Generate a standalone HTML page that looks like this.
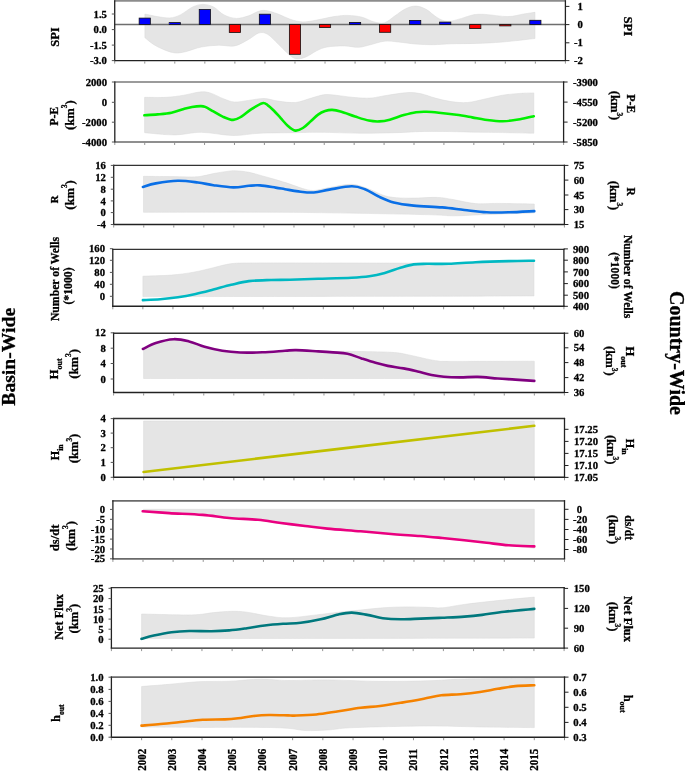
<!DOCTYPE html>
<html><head><meta charset="utf-8"><title>Basin-Wide vs Country-Wide</title>
<style>
html,body{margin:0;padding:0;background:#fff;}
body{width:685px;height:775px;overflow:hidden;}
svg{display:block;filter:blur(0.35px);}
svg text{font-family:"Liberation Serif", serif;font-weight:bold;fill:#000;stroke:#000;stroke-width:0.3px;}
</style></head><body>
<svg width="685" height="775" viewBox="0 0 685 775">
<rect width="685" height="775" fill="#fff"/>
<path d="M144.9,14 C147,14.43 153.35,15.95 157.5,16.6 C161.65,17.25 166,18.18 169.8,17.9 C173.6,17.62 176.5,16.72 180.3,14.9 C184.1,13.08 188.82,8.75 192.6,7 C196.38,5.25 199.5,4.4 203,4.4 C206.5,4.4 210.1,5.25 213.6,7 C217.1,8.75 220.2,13 224,14.9 C227.8,16.8 232.3,18.25 236.4,18.4 C240.5,18.55 245,16.95 248.6,15.8 C252.2,14.65 255.13,12.38 258,11.5 C260.87,10.62 262.47,10.08 265.8,10.5 C269.13,10.92 273.92,12.53 278,14 C282.08,15.47 286.2,17.98 290.3,19.3 C294.4,20.62 298.22,21.77 302.6,21.9 C306.98,22.03 311.37,20.98 316.6,20.1 C321.83,19.22 328.77,17.38 334,16.6 C339.23,15.82 343.33,15.3 348,15.4 C352.67,15.5 357.67,16.12 362,17.2 C366.33,18.28 370.25,20.97 374,21.9 C377.75,22.83 381,23.82 384.5,22.8 C388,21.78 391.5,18.13 395,15.8 C398.5,13.47 402,10.42 405.5,8.8 C409,7.18 412.48,5.97 416,6.1 C419.52,6.23 423.1,7.7 426.6,9.6 C430.1,11.5 433.5,15.53 437,17.5 C440.5,19.47 443.5,21.25 447.6,21.4 C451.7,21.55 457.4,19.48 461.6,18.4 C465.8,17.32 468.9,15.57 472.8,14.9 C476.7,14.23 479.17,14.12 485,14.4 C490.83,14.68 501.37,16.67 507.8,16.6 C514.23,16.53 519.07,14.72 523.6,14 C528.13,13.28 533.1,12.58 535,12.3 L535,38.5 C529.6,39.08 512.38,41.18 502.6,42 C492.82,42.82 484.9,43.1 476.3,43.4 C467.7,43.7 458.12,43.58 451,43.8 C443.88,44.02 439.43,44.65 433.6,44.7 C427.77,44.75 421.85,44.55 416,44.1 C410.15,43.65 403.75,42.48 398.5,42 C393.25,41.52 389.17,40.75 384.5,41.2 C379.83,41.65 374.82,43.68 370.5,44.7 C366.18,45.72 362.92,47.1 358.6,47.3 C354.28,47.5 349.87,45.95 344.6,45.9 C339.33,45.85 331.67,46.18 327,47 C322.33,47.82 320.1,49.15 316.6,50.8 C313.1,52.45 309.52,55.58 306,56.9 C302.48,58.22 298.7,59.42 295.5,58.7 C292.3,57.98 289.72,55.08 286.8,52.6 C283.88,50.12 281.22,46.87 278,43.8 C274.78,40.73 270.7,36 267.5,34.2 C264.3,32.4 261.95,32.13 258.8,33 C255.65,33.87 252.63,37.25 248.6,39.4 C244.57,41.55 239.57,44.93 234.6,45.9 C229.63,46.87 224.35,45.02 218.8,45.2 C213.25,45.38 206.85,45.92 201.3,47 C195.75,48.08 189.88,50.72 185.5,51.7 C181.12,52.68 178.5,53.2 175,52.9 C171.5,52.6 168,51.27 164.5,49.9 C161,48.53 157.27,46.73 154,44.7 C150.73,42.67 146.42,38.87 144.9,37.7 Z" fill="#e5e5e5" stroke="#d8d8d8" stroke-width="0.5"/>
<line x1="114.7" y1="24.5" x2="565.4" y2="24.5" stroke="#6e6e6e" stroke-width="1.3"/>
<rect x="139.15" y="18.1" width="11.2" height="6.4" fill="#0000ff" stroke="#111" stroke-width="0.8"/>
<rect x="169.19" y="22.6" width="11.2" height="1.9" fill="#0000ff" stroke="#111" stroke-width="0.8"/>
<rect x="199.24" y="9.5" width="11.2" height="15" fill="#0000ff" stroke="#111" stroke-width="0.8"/>
<rect x="229.29" y="24.5" width="11.2" height="8" fill="#ff0000" stroke="#111" stroke-width="0.8"/>
<rect x="259.33" y="14.2" width="11.2" height="10.3" fill="#0000ff" stroke="#111" stroke-width="0.8"/>
<rect x="289.38" y="24.5" width="11.2" height="29.8" fill="#ff0000" stroke="#111" stroke-width="0.8"/>
<rect x="319.43" y="24.5" width="11.2" height="3" fill="#ff0000" stroke="#111" stroke-width="0.8"/>
<rect x="349.47" y="22.4" width="11.2" height="2.1" fill="#0000ff" stroke="#111" stroke-width="0.8"/>
<rect x="379.52" y="24.5" width="11.2" height="7.8" fill="#ff0000" stroke="#111" stroke-width="0.8"/>
<rect x="409.57" y="20.4" width="11.2" height="4.1" fill="#0000ff" stroke="#111" stroke-width="0.8"/>
<rect x="439.61" y="22.1" width="11.2" height="2.4" fill="#0000ff" stroke="#111" stroke-width="0.8"/>
<rect x="469.66" y="24.5" width="11.2" height="4.1" fill="#ff0000" stroke="#111" stroke-width="0.8"/>
<rect x="499.71" y="24.5" width="11.2" height="1.4" fill="#ff0000" stroke="#111" stroke-width="0.8"/>
<rect x="529.75" y="20.3" width="11.2" height="4.2" fill="#0000ff" stroke="#111" stroke-width="0.8"/>
<line x1="114.1" y1="0.8" x2="566" y2="0.8" stroke="#8c8c8c" stroke-width="1.7"/>
<line x1="114.1" y1="60.6" x2="566" y2="60.6" stroke="#222" stroke-width="1.4"/>
<line x1="114.7" y1="0.2" x2="114.7" y2="61.2" stroke="#222" stroke-width="1.3"/>
<line x1="565.4" y1="0.2" x2="565.4" y2="61.2" stroke="#222" stroke-width="1.3"/>
<line x1="114.7" y1="61.3" x2="114.7" y2="63.6" stroke="#888" stroke-width="0.9"/>
<line x1="144.75" y1="61.3" x2="144.75" y2="63.6" stroke="#888" stroke-width="0.9"/>
<line x1="174.79" y1="61.3" x2="174.79" y2="63.6" stroke="#888" stroke-width="0.9"/>
<line x1="204.84" y1="61.3" x2="204.84" y2="63.6" stroke="#888" stroke-width="0.9"/>
<line x1="234.89" y1="61.3" x2="234.89" y2="63.6" stroke="#888" stroke-width="0.9"/>
<line x1="264.93" y1="61.3" x2="264.93" y2="63.6" stroke="#888" stroke-width="0.9"/>
<line x1="294.98" y1="61.3" x2="294.98" y2="63.6" stroke="#888" stroke-width="0.9"/>
<line x1="325.03" y1="61.3" x2="325.03" y2="63.6" stroke="#888" stroke-width="0.9"/>
<line x1="355.07" y1="61.3" x2="355.07" y2="63.6" stroke="#888" stroke-width="0.9"/>
<line x1="385.12" y1="61.3" x2="385.12" y2="63.6" stroke="#888" stroke-width="0.9"/>
<line x1="415.17" y1="61.3" x2="415.17" y2="63.6" stroke="#888" stroke-width="0.9"/>
<line x1="445.21" y1="61.3" x2="445.21" y2="63.6" stroke="#888" stroke-width="0.9"/>
<line x1="475.26" y1="61.3" x2="475.26" y2="63.6" stroke="#888" stroke-width="0.9"/>
<line x1="505.31" y1="61.3" x2="505.31" y2="63.6" stroke="#888" stroke-width="0.9"/>
<line x1="535.35" y1="61.3" x2="535.35" y2="63.6" stroke="#888" stroke-width="0.9"/>
<line x1="565.4" y1="61.3" x2="565.4" y2="63.6" stroke="#888" stroke-width="0.9"/>
<line x1="111.8" y1="14" x2="114.7" y2="14" stroke="#555" stroke-width="1"/>
<text x="106.9" y="17.64" font-size="10.7" text-anchor="end">1.5</text>
<line x1="111.8" y1="29.6" x2="114.7" y2="29.6" stroke="#555" stroke-width="1"/>
<text x="106.9" y="33.24" font-size="10.7" text-anchor="end">0.0</text>
<line x1="111.8" y1="45.1" x2="114.7" y2="45.1" stroke="#555" stroke-width="1"/>
<text x="106.9" y="48.74" font-size="10.7" text-anchor="end">-1.5</text>
<line x1="111.8" y1="60.6" x2="114.7" y2="60.6" stroke="#555" stroke-width="1"/>
<text x="106.9" y="64.24" font-size="10.7" text-anchor="end">-3.0</text>
<line x1="565.4" y1="6.4" x2="569.4" y2="6.4" stroke="#222" stroke-width="1"/>
<text x="582.8" y="10.04" font-size="10.7" text-anchor="end">1</text>
<line x1="565.4" y1="24.6" x2="569.4" y2="24.6" stroke="#222" stroke-width="1"/>
<text x="582.8" y="28.24" font-size="10.7" text-anchor="end">0</text>
<line x1="565.4" y1="42.8" x2="569.4" y2="42.8" stroke="#222" stroke-width="1"/>
<text x="582.8" y="46.44" font-size="10.7" text-anchor="end">-1</text>
<line x1="565.4" y1="60.6" x2="569.4" y2="60.6" stroke="#222" stroke-width="1"/>
<text x="582.8" y="64.24" font-size="10.7" text-anchor="end">-2</text>
<path d="M144.6,97.3 C148.22,97.3 159.77,97.65 166.3,97.3 C172.83,96.95 178.25,96.08 183.8,95.2 C189.35,94.32 195.23,92.38 199.6,92 C203.97,91.62 205.93,91.73 210,92.9 C214.07,94.07 219.9,97.48 224,99 C228.1,100.52 230.5,101.77 234.6,102 C238.7,102.23 243.7,100.98 248.6,100.4 C253.5,99.82 259.1,98.38 264,98.5 C268.9,98.62 272.75,100.43 278,101.1 C283.25,101.77 289.95,103 295.5,102.5 C301.05,102 306.33,99.42 311.3,98.1 C316.27,96.78 320.35,94.97 325.3,94.6 C330.25,94.23 336.03,95.4 341,95.9 C345.97,96.4 350.27,97.23 355.1,97.6 C359.93,97.97 365.68,98.3 370,98.1 C374.32,97.9 376.83,97.07 381,96.4 C385.17,95.73 390.33,94.75 395,94.1 C399.67,93.45 404.62,92.55 409,92.5 C413.38,92.45 416.92,92.87 421.3,93.8 C425.68,94.73 430.35,96.8 435.3,98.1 C440.25,99.4 445.63,100.87 451,101.6 C456.37,102.33 461.83,102.93 467.5,102.5 C473.17,102.07 479.15,100.22 485,99 C490.85,97.78 496.77,96.13 502.6,95.2 C508.43,94.27 514.8,93.78 520,93.4 C525.2,93.02 531.5,92.98 533.8,92.9 L533.8,133.2 C525.67,133.05 502.3,132.6 485,132.3 C467.7,132 445,131.33 430,131.4 C415,131.47 406.67,132.4 395,132.7 C383.33,133 372.5,133.27 360,133.2 C347.5,133.13 331.03,132.38 320,132.3 C308.97,132.22 303.8,132.55 293.8,132.7 C283.8,132.85 270.15,132.73 260,133.2 C249.85,133.67 242.68,135.65 232.9,135.5 C223.12,135.35 210.95,132.4 201.3,132.3 C191.65,132.2 184.45,134.83 175,134.9 C165.55,134.97 149.67,133.07 144.6,132.7 Z" fill="#e5e5e5" stroke="#d8d8d8" stroke-width="0.5"/>
<path d="M144.4,115.3 C146.58,115.15 152.98,114.83 157.5,114.4 C162.02,113.97 167.12,113.6 171.5,112.7 C175.88,111.8 180.38,109.95 183.8,109 C187.22,108.05 189.22,107.48 192,107 C194.78,106.52 198.3,106.12 200.5,106.1 C202.7,106.08 203.05,106.02 205.2,106.9 C207.35,107.78 210.48,109.78 213.4,111.4 C216.32,113.02 219.4,115.18 222.7,116.6 C226,118.02 230.08,119.9 233.2,119.9 C236.32,119.9 238.48,118.32 241.4,116.6 C244.32,114.88 247.2,111.83 250.7,109.6 C254.2,107.37 259.55,103.92 262.4,103.2 C265.25,102.48 265.92,104.08 267.8,105.3 C269.68,106.52 271.55,108.37 273.7,110.5 C275.85,112.63 278.37,115.57 280.7,118.1 C283.03,120.63 285.27,123.62 287.7,125.7 C290.13,127.78 292.77,130.22 295.3,130.6 C297.83,130.98 300.28,129.6 302.9,128 C305.52,126.4 308.47,123.23 311,121 C313.53,118.77 315.75,116.25 318.1,114.6 C320.45,112.95 322.77,111.88 325.1,111.1 C327.43,110.32 329.38,109.8 332.1,109.9 C334.82,110 337.57,110.6 341.4,111.7 C345.23,112.8 350.53,115.02 355.1,116.5 C359.67,117.98 364.77,119.78 368.8,120.6 C372.83,121.42 375.8,121.55 379.3,121.4 C382.8,121.25 385.72,120.75 389.8,119.7 C393.88,118.65 399.43,116.35 403.8,115.1 C408.17,113.85 412.2,112.75 416,112.2 C419.8,111.65 422.8,111.72 426.6,111.8 C430.4,111.88 433.83,112.2 438.8,112.7 C443.77,113.2 450.85,114.02 456.4,114.8 C461.95,115.58 467.33,116.58 472.1,117.4 C476.87,118.22 479.92,119.05 485,119.7 C490.08,120.35 496.77,121.38 502.6,121.3 C508.43,121.22 514.8,120.05 520,119.2 C525.2,118.35 531.5,116.7 533.8,116.2" fill="none" stroke="#00f000" stroke-width="2.6" stroke-linecap="round" stroke-linejoin="round"/>
<line x1="114.2" y1="82" x2="564.2" y2="82" stroke="#7a7a7a" stroke-width="1.7"/>
<line x1="114.2" y1="142" x2="564.2" y2="142" stroke="#6a6a6a" stroke-width="1.7"/>
<line x1="114.8" y1="81.4" x2="114.8" y2="142.6" stroke="#222" stroke-width="1.3"/>
<line x1="563.6" y1="81.4" x2="563.6" y2="142.6" stroke="#222" stroke-width="1.3"/>
<line x1="114.8" y1="142.7" x2="114.8" y2="145" stroke="#888" stroke-width="0.9"/>
<line x1="144.72" y1="142.7" x2="144.72" y2="145" stroke="#888" stroke-width="0.9"/>
<line x1="174.64" y1="142.7" x2="174.64" y2="145" stroke="#888" stroke-width="0.9"/>
<line x1="204.56" y1="142.7" x2="204.56" y2="145" stroke="#888" stroke-width="0.9"/>
<line x1="234.48" y1="142.7" x2="234.48" y2="145" stroke="#888" stroke-width="0.9"/>
<line x1="264.4" y1="142.7" x2="264.4" y2="145" stroke="#888" stroke-width="0.9"/>
<line x1="294.32" y1="142.7" x2="294.32" y2="145" stroke="#888" stroke-width="0.9"/>
<line x1="324.24" y1="142.7" x2="324.24" y2="145" stroke="#888" stroke-width="0.9"/>
<line x1="354.16" y1="142.7" x2="354.16" y2="145" stroke="#888" stroke-width="0.9"/>
<line x1="384.08" y1="142.7" x2="384.08" y2="145" stroke="#888" stroke-width="0.9"/>
<line x1="414" y1="142.7" x2="414" y2="145" stroke="#888" stroke-width="0.9"/>
<line x1="443.92" y1="142.7" x2="443.92" y2="145" stroke="#888" stroke-width="0.9"/>
<line x1="473.84" y1="142.7" x2="473.84" y2="145" stroke="#888" stroke-width="0.9"/>
<line x1="503.76" y1="142.7" x2="503.76" y2="145" stroke="#888" stroke-width="0.9"/>
<line x1="533.68" y1="142.7" x2="533.68" y2="145" stroke="#888" stroke-width="0.9"/>
<line x1="563.6" y1="142.7" x2="563.6" y2="145" stroke="#888" stroke-width="0.9"/>
<line x1="111.9" y1="82" x2="114.8" y2="82" stroke="#555" stroke-width="1"/>
<text x="107" y="85.64" font-size="10.7" text-anchor="end">2000</text>
<line x1="111.9" y1="102.3" x2="114.8" y2="102.3" stroke="#555" stroke-width="1"/>
<text x="107" y="105.94" font-size="10.7" text-anchor="end">0</text>
<line x1="111.9" y1="122.2" x2="114.8" y2="122.2" stroke="#555" stroke-width="1"/>
<text x="107" y="125.84" font-size="10.7" text-anchor="end">-2000</text>
<line x1="111.9" y1="142" x2="114.8" y2="142" stroke="#555" stroke-width="1"/>
<text x="107" y="145.64" font-size="10.7" text-anchor="end">-4000</text>
<line x1="563.6" y1="82" x2="567.6" y2="82" stroke="#222" stroke-width="1"/>
<text x="573" y="85.64" font-size="10.7" text-anchor="start">-3900</text>
<line x1="563.6" y1="102.1" x2="567.6" y2="102.1" stroke="#222" stroke-width="1"/>
<text x="573" y="105.74" font-size="10.7" text-anchor="start">-4550</text>
<line x1="563.6" y1="122.1" x2="567.6" y2="122.1" stroke="#222" stroke-width="1"/>
<text x="573" y="125.74" font-size="10.7" text-anchor="start">-5200</text>
<line x1="563.6" y1="142" x2="567.6" y2="142" stroke="#222" stroke-width="1"/>
<text x="573" y="145.64" font-size="10.7" text-anchor="start">-5850</text>
<path d="M143.5,176.3 C147.92,176.35 162.58,176.5 170,176.6 C177.42,176.7 183,176.92 188,176.9 C193,176.88 195.77,177.05 200,176.5 C204.23,175.95 208.93,174.45 213.4,173.6 C217.87,172.75 223.1,171.87 226.8,171.4 C230.5,170.93 231.92,170.65 235.6,170.8 C239.28,170.95 244.45,171.45 248.9,172.3 C253.35,173.15 257.85,174.68 262.3,175.9 C266.75,177.12 270.98,178.23 275.6,179.6 C280.22,180.97 285.48,182.62 290,184.1 C294.52,185.58 298.73,187.43 302.7,188.5 C306.67,189.57 309.35,190.65 313.8,190.5 C318.25,190.35 323.1,188.63 329.4,187.6 C335.7,186.57 344.95,184.03 351.6,184.3 C358.25,184.57 363.77,187.28 369.3,189.2 C374.83,191.12 379.62,194.33 384.8,195.8 C389.98,197.27 394.85,197.63 400.4,198 C405.95,198.37 411.88,198.1 418.1,198 C424.32,197.9 431.83,197.13 437.7,197.4 C443.57,197.67 447,198.57 453.3,199.6 C459.6,200.63 468.1,202.97 475.5,203.6 C482.9,204.23 487.9,203.33 497.7,203.4 C507.5,203.47 528.2,203.9 534.3,204 L534.3,212.9 C526.35,213.17 500.1,214.02 486.6,214.5 C473.1,214.98 464.4,215.8 453.3,215.8 C442.2,215.8 448.05,215.08 420,214.5 C391.95,213.92 331.08,212.67 285,212.3 C238.92,211.93 167.08,212.3 143.5,212.3 Z" fill="#e5e5e5" stroke="#d8d8d8" stroke-width="0.5"/>
<path d="M142.9,187 C145.05,186.4 149.97,184.43 155.8,183.4 C161.63,182.37 170.88,180.95 177.9,180.8 C184.92,180.65 191.98,181.77 197.9,182.5 C203.82,183.23 207.48,184.38 213.4,185.2 C219.32,186.02 227.48,187.3 233.4,187.4 C239.32,187.5 244.47,186.13 248.9,185.8 C253.33,185.47 255.55,185.1 260,185.4 C264.45,185.7 271.43,186.97 275.6,187.6 C279.77,188.23 281.22,188.57 285,189.2 C288.78,189.83 293.5,190.85 298.3,191.4 C303.1,191.95 308.62,192.8 313.8,192.5 C318.98,192.2 323.1,190.63 329.4,189.6 C335.7,188.57 345.68,186.37 351.6,186.3 C357.52,186.23 360.47,187.53 364.9,189.2 C369.33,190.87 373.4,194.08 378.2,196.3 C383,198.52 387.78,200.95 393.7,202.5 C399.62,204.05 405.62,204.78 413.7,205.6 C421.78,206.42 433.75,206.67 442.2,207.4 C450.65,208.13 457,209.18 464.4,210 C471.8,210.82 479.2,211.92 486.6,212.3 C494,212.68 500.85,212.5 508.8,212.3 C516.75,212.1 530.05,211.3 534.3,211.1" fill="none" stroke="#0a6fe6" stroke-width="2.6" stroke-linecap="round" stroke-linejoin="round"/>
<line x1="113.1" y1="165.4" x2="565" y2="165.4" stroke="#333" stroke-width="1.4"/>
<line x1="113.1" y1="224.5" x2="565" y2="224.5" stroke="#222" stroke-width="1.4"/>
<line x1="113.7" y1="164.8" x2="113.7" y2="225.1" stroke="#222" stroke-width="1.3"/>
<line x1="564.4" y1="164.8" x2="564.4" y2="225.1" stroke="#222" stroke-width="1.3"/>
<line x1="113.7" y1="225.2" x2="113.7" y2="227.5" stroke="#888" stroke-width="0.9"/>
<line x1="143.75" y1="225.2" x2="143.75" y2="227.5" stroke="#888" stroke-width="0.9"/>
<line x1="173.79" y1="225.2" x2="173.79" y2="227.5" stroke="#888" stroke-width="0.9"/>
<line x1="203.84" y1="225.2" x2="203.84" y2="227.5" stroke="#888" stroke-width="0.9"/>
<line x1="233.89" y1="225.2" x2="233.89" y2="227.5" stroke="#888" stroke-width="0.9"/>
<line x1="263.93" y1="225.2" x2="263.93" y2="227.5" stroke="#888" stroke-width="0.9"/>
<line x1="293.98" y1="225.2" x2="293.98" y2="227.5" stroke="#888" stroke-width="0.9"/>
<line x1="324.03" y1="225.2" x2="324.03" y2="227.5" stroke="#888" stroke-width="0.9"/>
<line x1="354.07" y1="225.2" x2="354.07" y2="227.5" stroke="#888" stroke-width="0.9"/>
<line x1="384.12" y1="225.2" x2="384.12" y2="227.5" stroke="#888" stroke-width="0.9"/>
<line x1="414.17" y1="225.2" x2="414.17" y2="227.5" stroke="#888" stroke-width="0.9"/>
<line x1="444.21" y1="225.2" x2="444.21" y2="227.5" stroke="#888" stroke-width="0.9"/>
<line x1="474.26" y1="225.2" x2="474.26" y2="227.5" stroke="#888" stroke-width="0.9"/>
<line x1="504.31" y1="225.2" x2="504.31" y2="227.5" stroke="#888" stroke-width="0.9"/>
<line x1="534.35" y1="225.2" x2="534.35" y2="227.5" stroke="#888" stroke-width="0.9"/>
<line x1="564.4" y1="225.2" x2="564.4" y2="227.5" stroke="#888" stroke-width="0.9"/>
<line x1="110.8" y1="165.4" x2="113.7" y2="165.4" stroke="#555" stroke-width="1"/>
<text x="105.9" y="169.04" font-size="10.7" text-anchor="end">16</text>
<line x1="110.8" y1="177.3" x2="113.7" y2="177.3" stroke="#555" stroke-width="1"/>
<text x="105.9" y="180.94" font-size="10.7" text-anchor="end">12</text>
<line x1="110.8" y1="189.2" x2="113.7" y2="189.2" stroke="#555" stroke-width="1"/>
<text x="105.9" y="192.84" font-size="10.7" text-anchor="end">8</text>
<line x1="110.8" y1="200.9" x2="113.7" y2="200.9" stroke="#555" stroke-width="1"/>
<text x="105.9" y="204.54" font-size="10.7" text-anchor="end">4</text>
<line x1="110.8" y1="212.6" x2="113.7" y2="212.6" stroke="#555" stroke-width="1"/>
<text x="105.9" y="216.24" font-size="10.7" text-anchor="end">0</text>
<line x1="110.8" y1="224.5" x2="113.7" y2="224.5" stroke="#555" stroke-width="1"/>
<text x="105.9" y="228.14" font-size="10.7" text-anchor="end">-4</text>
<line x1="564.4" y1="165.4" x2="568.4" y2="165.4" stroke="#222" stroke-width="1"/>
<text x="573.7" y="169.04" font-size="10.7" text-anchor="start">75</text>
<line x1="564.4" y1="180.1" x2="568.4" y2="180.1" stroke="#222" stroke-width="1"/>
<text x="573.7" y="183.74" font-size="10.7" text-anchor="start">60</text>
<line x1="564.4" y1="195" x2="568.4" y2="195" stroke="#222" stroke-width="1"/>
<text x="573.7" y="198.64" font-size="10.7" text-anchor="start">45</text>
<line x1="564.4" y1="209.6" x2="568.4" y2="209.6" stroke="#222" stroke-width="1"/>
<text x="573.7" y="213.24" font-size="10.7" text-anchor="start">30</text>
<line x1="564.4" y1="224.5" x2="568.4" y2="224.5" stroke="#222" stroke-width="1"/>
<text x="573.7" y="228.14" font-size="10.7" text-anchor="start">15</text>
<path d="M142.9,276.2 C147.63,276.02 162.87,275.77 171.3,275.1 C179.73,274.43 186.48,273.43 193.5,272.2 C200.52,270.97 208.32,268.9 213.4,267.7 C218.48,266.5 220.73,265.7 224,265 C227.27,264.3 229.5,263.83 233,263.5 C236.5,263.17 235.5,263.1 245,263 C254.5,262.9 264.17,262.88 290,262.9 C315.83,262.92 377.17,263.03 400,263.1 C422.83,263.17 418.87,263.22 427,263.3 C435.13,263.38 440.72,263.72 448.8,263.6 C456.88,263.48 465.5,262.93 475.5,262.6 C485.5,262.27 499.05,261.83 508.8,261.6 C518.55,261.37 529.8,261.27 534,261.2 L534,295.9 C515,295.97 485.18,296.18 420,296.3 C354.82,296.42 189.08,296.55 142.9,296.6 Z" fill="#e5e5e5" stroke="#d8d8d8" stroke-width="0.5"/>
<path d="M142.9,300.1 C145.78,299.97 154.37,299.77 160.2,299.3 C166.03,298.83 171.98,298.2 177.9,297.3 C183.82,296.4 189.78,295.2 195.7,293.9 C201.62,292.6 207.48,291.02 213.4,289.5 C219.32,287.98 225.28,286.2 231.2,284.8 C237.12,283.4 242.25,281.9 248.9,281.1 C255.55,280.3 264.25,280.23 271.1,280 C277.95,279.77 282.13,279.9 290,279.7 C297.87,279.5 308.03,279.13 318.3,278.8 C328.57,278.47 343.1,278.13 351.6,277.7 C360.1,277.27 363.77,277 369.3,276.2 C374.83,275.4 379.62,274.3 384.8,272.9 C389.98,271.5 395.58,269.22 400.4,267.8 C405.22,266.38 409.27,265.07 413.7,264.4 C418.13,263.73 421.15,263.9 427,263.8 C432.85,263.7 440.72,264.07 448.8,263.8 C456.88,263.53 465.5,262.65 475.5,262.2 C485.5,261.75 499.05,261.35 508.8,261.1 C518.55,260.85 529.8,260.77 534,260.7" fill="none" stroke="#00b8c2" stroke-width="2.6" stroke-linecap="round" stroke-linejoin="round"/>
<line x1="112.2" y1="249.4" x2="564.5" y2="249.4" stroke="#333" stroke-width="1.4"/>
<line x1="112.2" y1="306.3" x2="564.5" y2="306.3" stroke="#222" stroke-width="1.4"/>
<line x1="112.8" y1="248.8" x2="112.8" y2="306.9" stroke="#222" stroke-width="1.3"/>
<line x1="563.9" y1="248.8" x2="563.9" y2="306.9" stroke="#222" stroke-width="1.3"/>
<line x1="112.8" y1="307" x2="112.8" y2="309.3" stroke="#888" stroke-width="0.9"/>
<line x1="142.87" y1="307" x2="142.87" y2="309.3" stroke="#888" stroke-width="0.9"/>
<line x1="172.95" y1="307" x2="172.95" y2="309.3" stroke="#888" stroke-width="0.9"/>
<line x1="203.02" y1="307" x2="203.02" y2="309.3" stroke="#888" stroke-width="0.9"/>
<line x1="233.09" y1="307" x2="233.09" y2="309.3" stroke="#888" stroke-width="0.9"/>
<line x1="263.17" y1="307" x2="263.17" y2="309.3" stroke="#888" stroke-width="0.9"/>
<line x1="293.24" y1="307" x2="293.24" y2="309.3" stroke="#888" stroke-width="0.9"/>
<line x1="323.31" y1="307" x2="323.31" y2="309.3" stroke="#888" stroke-width="0.9"/>
<line x1="353.39" y1="307" x2="353.39" y2="309.3" stroke="#888" stroke-width="0.9"/>
<line x1="383.46" y1="307" x2="383.46" y2="309.3" stroke="#888" stroke-width="0.9"/>
<line x1="413.53" y1="307" x2="413.53" y2="309.3" stroke="#888" stroke-width="0.9"/>
<line x1="443.61" y1="307" x2="443.61" y2="309.3" stroke="#888" stroke-width="0.9"/>
<line x1="473.68" y1="307" x2="473.68" y2="309.3" stroke="#888" stroke-width="0.9"/>
<line x1="503.75" y1="307" x2="503.75" y2="309.3" stroke="#888" stroke-width="0.9"/>
<line x1="533.83" y1="307" x2="533.83" y2="309.3" stroke="#888" stroke-width="0.9"/>
<line x1="563.9" y1="307" x2="563.9" y2="309.3" stroke="#888" stroke-width="0.9"/>
<line x1="109.9" y1="248.7" x2="112.8" y2="248.7" stroke="#555" stroke-width="1"/>
<text x="105" y="252.34" font-size="10.7" text-anchor="end">160</text>
<line x1="109.9" y1="260.3" x2="112.8" y2="260.3" stroke="#555" stroke-width="1"/>
<text x="105" y="263.94" font-size="10.7" text-anchor="end">120</text>
<line x1="109.9" y1="272.4" x2="112.8" y2="272.4" stroke="#555" stroke-width="1"/>
<text x="105" y="276.04" font-size="10.7" text-anchor="end">80</text>
<line x1="109.9" y1="284.3" x2="112.8" y2="284.3" stroke="#555" stroke-width="1"/>
<text x="105" y="287.94" font-size="10.7" text-anchor="end">40</text>
<line x1="109.9" y1="296.3" x2="112.8" y2="296.3" stroke="#555" stroke-width="1"/>
<text x="105" y="299.94" font-size="10.7" text-anchor="end">0</text>
<line x1="563.9" y1="248.9" x2="567.9" y2="248.9" stroke="#222" stroke-width="1"/>
<text x="573" y="252.54" font-size="10.7" text-anchor="start">900</text>
<line x1="563.9" y1="260.2" x2="567.9" y2="260.2" stroke="#222" stroke-width="1"/>
<text x="573" y="263.84" font-size="10.7" text-anchor="start">800</text>
<line x1="563.9" y1="271.9" x2="567.9" y2="271.9" stroke="#222" stroke-width="1"/>
<text x="573" y="275.54" font-size="10.7" text-anchor="start">700</text>
<line x1="563.9" y1="283.6" x2="567.9" y2="283.6" stroke="#222" stroke-width="1"/>
<text x="573" y="287.24" font-size="10.7" text-anchor="start">600</text>
<line x1="563.9" y1="295.2" x2="567.9" y2="295.2" stroke="#222" stroke-width="1"/>
<text x="573" y="298.84" font-size="10.7" text-anchor="start">500</text>
<line x1="563.9" y1="306.3" x2="567.9" y2="306.3" stroke="#222" stroke-width="1"/>
<text x="573" y="309.94" font-size="10.7" text-anchor="start">400</text>
<path d="M143.6,349.5 C145.63,348.5 150.82,345.13 155.8,343.5 C160.78,341.87 167.97,339.97 173.5,339.7 C179.03,339.43 183.82,340.63 189,341.9 C194.18,343.17 199.05,345.73 204.6,347.3 C210.15,348.87 216.38,350.35 222.3,351.3 C228.22,352.25 233.43,352.75 240.1,353 C246.77,353.25 254.82,353.08 262.3,352.8 C269.78,352.52 279.37,351.67 285,351.3 C290.63,350.93 290.55,350.58 296.1,350.6 C301.65,350.62 309.05,351.27 318.3,351.4 C327.55,351.53 339.43,351.25 351.6,351.4 C363.77,351.55 381.77,351.72 391.3,352.3 C400.83,352.88 402.95,353.8 408.8,354.9 C414.65,356 421.43,357.88 426.4,358.9 C431.37,359.92 434.67,360.58 438.6,361 C442.53,361.42 434.05,361.37 450,361.4 C465.95,361.43 520.25,361.23 534.3,361.2 L534.3,378.5 C469.18,378.5 208.72,378.5 143.6,378.5 Z" fill="#e5e5e5" stroke="#d8d8d8" stroke-width="0.5"/>
<path d="M142.9,349 C145.05,348 150.7,344.63 155.8,343 C160.9,341.37 167.97,339.47 173.5,339.2 C179.03,338.93 183.82,340.13 189,341.4 C194.18,342.67 199.05,345.23 204.6,346.8 C210.15,348.37 216.38,349.85 222.3,350.8 C228.22,351.75 233.43,352.25 240.1,352.5 C246.77,352.75 254.82,352.58 262.3,352.3 C269.78,352.02 279.37,351.17 285,350.8 C290.63,350.43 290.55,350 296.1,350.1 C301.65,350.2 312.15,351.02 318.3,351.4 C324.45,351.78 328.13,352.02 333,352.4 C337.87,352.78 342.75,352.7 347.5,353.7 C352.25,354.7 356.83,356.88 361.5,358.4 C366.17,359.92 371.12,361.55 375.5,362.8 C379.88,364.05 383.12,364.97 387.8,365.9 C392.48,366.83 398.63,367.47 403.6,368.4 C408.57,369.33 412.93,370.4 417.6,371.5 C422.27,372.6 427.22,374.12 431.6,375 C435.98,375.88 439.17,376.4 443.9,376.8 C448.63,377.2 454.37,377.38 460,377.4 C465.63,377.42 471.42,376.72 477.7,376.9 C483.98,377.08 491.42,378.05 497.7,378.5 C503.98,378.95 509.3,379.2 515.4,379.6 C521.5,380 531.15,380.68 534.3,380.9" fill="none" stroke="#800080" stroke-width="2.6" stroke-linecap="round" stroke-linejoin="round"/>
<line x1="113" y1="333.2" x2="565" y2="333.2" stroke="#333" stroke-width="1.4"/>
<line x1="113" y1="392.5" x2="565" y2="392.5" stroke="#222" stroke-width="1.4"/>
<line x1="113.6" y1="332.6" x2="113.6" y2="393.1" stroke="#222" stroke-width="1.3"/>
<line x1="564.4" y1="332.6" x2="564.4" y2="393.1" stroke="#222" stroke-width="1.3"/>
<line x1="113.6" y1="393.2" x2="113.6" y2="395.5" stroke="#888" stroke-width="0.9"/>
<line x1="143.65" y1="393.2" x2="143.65" y2="395.5" stroke="#888" stroke-width="0.9"/>
<line x1="173.71" y1="393.2" x2="173.71" y2="395.5" stroke="#888" stroke-width="0.9"/>
<line x1="203.76" y1="393.2" x2="203.76" y2="395.5" stroke="#888" stroke-width="0.9"/>
<line x1="233.81" y1="393.2" x2="233.81" y2="395.5" stroke="#888" stroke-width="0.9"/>
<line x1="263.87" y1="393.2" x2="263.87" y2="395.5" stroke="#888" stroke-width="0.9"/>
<line x1="293.92" y1="393.2" x2="293.92" y2="395.5" stroke="#888" stroke-width="0.9"/>
<line x1="323.97" y1="393.2" x2="323.97" y2="395.5" stroke="#888" stroke-width="0.9"/>
<line x1="354.03" y1="393.2" x2="354.03" y2="395.5" stroke="#888" stroke-width="0.9"/>
<line x1="384.08" y1="393.2" x2="384.08" y2="395.5" stroke="#888" stroke-width="0.9"/>
<line x1="414.13" y1="393.2" x2="414.13" y2="395.5" stroke="#888" stroke-width="0.9"/>
<line x1="444.19" y1="393.2" x2="444.19" y2="395.5" stroke="#888" stroke-width="0.9"/>
<line x1="474.24" y1="393.2" x2="474.24" y2="395.5" stroke="#888" stroke-width="0.9"/>
<line x1="504.29" y1="393.2" x2="504.29" y2="395.5" stroke="#888" stroke-width="0.9"/>
<line x1="534.35" y1="393.2" x2="534.35" y2="395.5" stroke="#888" stroke-width="0.9"/>
<line x1="564.4" y1="393.2" x2="564.4" y2="395.5" stroke="#888" stroke-width="0.9"/>
<line x1="110.7" y1="332.8" x2="113.6" y2="332.8" stroke="#555" stroke-width="1"/>
<text x="105.8" y="336.44" font-size="10.7" text-anchor="end">12</text>
<line x1="110.7" y1="348.2" x2="113.6" y2="348.2" stroke="#555" stroke-width="1"/>
<text x="105.8" y="351.84" font-size="10.7" text-anchor="end">8</text>
<line x1="110.7" y1="363.5" x2="113.6" y2="363.5" stroke="#555" stroke-width="1"/>
<text x="105.8" y="367.14" font-size="10.7" text-anchor="end">4</text>
<line x1="110.7" y1="379" x2="113.6" y2="379" stroke="#555" stroke-width="1"/>
<text x="105.8" y="382.64" font-size="10.7" text-anchor="end">0</text>
<line x1="564.4" y1="333.2" x2="568.4" y2="333.2" stroke="#222" stroke-width="1"/>
<text x="573.7" y="336.84" font-size="10.7" text-anchor="start">60</text>
<line x1="564.4" y1="347.8" x2="568.4" y2="347.8" stroke="#222" stroke-width="1"/>
<text x="573.7" y="351.44" font-size="10.7" text-anchor="start">54</text>
<line x1="564.4" y1="362.6" x2="568.4" y2="362.6" stroke="#222" stroke-width="1"/>
<text x="573.7" y="366.24" font-size="10.7" text-anchor="start">48</text>
<line x1="564.4" y1="377.6" x2="568.4" y2="377.6" stroke="#222" stroke-width="1"/>
<text x="573.7" y="381.24" font-size="10.7" text-anchor="start">42</text>
<line x1="564.4" y1="392.5" x2="568.4" y2="392.5" stroke="#222" stroke-width="1"/>
<text x="573.7" y="396.14" font-size="10.7" text-anchor="start">36</text>
<path d="M143.6,421 C208.72,421 469.18,421 534.3,421 L534.3,477.3 C469.18,477.3 208.72,477.3 143.6,477.3 Z" fill="#e5e5e5" stroke="#d8d8d8" stroke-width="0.5"/>
<path d="M143.6,472 C208.72,464.3 469.18,433.5 534.3,425.8" fill="none" stroke="#c0c000" stroke-width="2.6" stroke-linecap="round" stroke-linejoin="round"/>
<line x1="113" y1="418.5" x2="565.1" y2="418.5" stroke="#333" stroke-width="1.4"/>
<line x1="113" y1="477.3" x2="565.1" y2="477.3" stroke="#222" stroke-width="1.4"/>
<line x1="113.6" y1="417.9" x2="113.6" y2="477.9" stroke="#222" stroke-width="1.3"/>
<line x1="564.5" y1="417.9" x2="564.5" y2="477.9" stroke="#222" stroke-width="1.3"/>
<line x1="113.6" y1="478" x2="113.6" y2="480.3" stroke="#888" stroke-width="0.9"/>
<line x1="143.66" y1="478" x2="143.66" y2="480.3" stroke="#888" stroke-width="0.9"/>
<line x1="173.72" y1="478" x2="173.72" y2="480.3" stroke="#888" stroke-width="0.9"/>
<line x1="203.78" y1="478" x2="203.78" y2="480.3" stroke="#888" stroke-width="0.9"/>
<line x1="233.84" y1="478" x2="233.84" y2="480.3" stroke="#888" stroke-width="0.9"/>
<line x1="263.9" y1="478" x2="263.9" y2="480.3" stroke="#888" stroke-width="0.9"/>
<line x1="293.96" y1="478" x2="293.96" y2="480.3" stroke="#888" stroke-width="0.9"/>
<line x1="324.02" y1="478" x2="324.02" y2="480.3" stroke="#888" stroke-width="0.9"/>
<line x1="354.08" y1="478" x2="354.08" y2="480.3" stroke="#888" stroke-width="0.9"/>
<line x1="384.14" y1="478" x2="384.14" y2="480.3" stroke="#888" stroke-width="0.9"/>
<line x1="414.2" y1="478" x2="414.2" y2="480.3" stroke="#888" stroke-width="0.9"/>
<line x1="444.26" y1="478" x2="444.26" y2="480.3" stroke="#888" stroke-width="0.9"/>
<line x1="474.32" y1="478" x2="474.32" y2="480.3" stroke="#888" stroke-width="0.9"/>
<line x1="504.38" y1="478" x2="504.38" y2="480.3" stroke="#888" stroke-width="0.9"/>
<line x1="534.44" y1="478" x2="534.44" y2="480.3" stroke="#888" stroke-width="0.9"/>
<line x1="564.5" y1="478" x2="564.5" y2="480.3" stroke="#888" stroke-width="0.9"/>
<line x1="110.7" y1="418.6" x2="113.6" y2="418.6" stroke="#555" stroke-width="1"/>
<text x="105.8" y="422.24" font-size="10.7" text-anchor="end">4</text>
<line x1="110.7" y1="433.1" x2="113.6" y2="433.1" stroke="#555" stroke-width="1"/>
<text x="105.8" y="436.74" font-size="10.7" text-anchor="end">3</text>
<line x1="110.7" y1="447.7" x2="113.6" y2="447.7" stroke="#555" stroke-width="1"/>
<text x="105.8" y="451.34" font-size="10.7" text-anchor="end">2</text>
<line x1="110.7" y1="462.4" x2="113.6" y2="462.4" stroke="#555" stroke-width="1"/>
<text x="105.8" y="466.04" font-size="10.7" text-anchor="end">1</text>
<line x1="110.7" y1="477.3" x2="113.6" y2="477.3" stroke="#555" stroke-width="1"/>
<text x="105.8" y="480.94" font-size="10.7" text-anchor="end">0</text>
<line x1="564.5" y1="429.3" x2="568.5" y2="429.3" stroke="#222" stroke-width="1"/>
<text x="574" y="432.94" font-size="10.7" text-anchor="start">17.25</text>
<line x1="564.5" y1="441.4" x2="568.5" y2="441.4" stroke="#222" stroke-width="1"/>
<text x="574" y="445.04" font-size="10.7" text-anchor="start">17.20</text>
<line x1="564.5" y1="453.4" x2="568.5" y2="453.4" stroke="#222" stroke-width="1"/>
<text x="574" y="457.04" font-size="10.7" text-anchor="start">17.15</text>
<line x1="564.5" y1="465.5" x2="568.5" y2="465.5" stroke="#222" stroke-width="1"/>
<text x="574" y="469.14" font-size="10.7" text-anchor="start">17.10</text>
<line x1="564.5" y1="477.4" x2="568.5" y2="477.4" stroke="#222" stroke-width="1"/>
<text x="574" y="481.04" font-size="10.7" text-anchor="start">17.05</text>
<path d="M143.5,509.3 C208.63,509.3 469.17,509.3 534.3,509.3 L534.3,548.2 C526.35,547.38 501.95,544.92 486.6,543.3 C471.25,541.68 457.65,539.93 442.2,538.5 C426.75,537.07 413.03,536.27 393.9,534.7 C374.77,533.13 345.05,530.77 327.4,529.1 C309.75,527.43 299.57,526.17 288,524.7 C276.43,523.23 267.8,521.33 258,520.3 C248.2,519.27 238.43,519.32 229.2,518.5 C219.97,517.68 212.58,516.22 202.6,515.4 C192.62,514.58 179.15,514.2 169.3,513.6 C159.45,513 147.8,512.1 143.5,511.8 Z" fill="#e5e5e5" stroke="#d8d8d8" stroke-width="0.5"/>
<path d="M142.7,511.3 C147.13,511.6 159.32,512.5 169.3,513.1 C179.28,513.7 192.62,514.08 202.6,514.9 C212.58,515.72 219.97,517.18 229.2,518 C238.43,518.82 249.37,518.97 258,519.8 C266.63,520.63 273.13,521.97 281,523 C288.87,524.03 297.47,525.07 305.2,526 C312.93,526.93 318.15,527.72 327.4,528.6 C336.65,529.48 349.62,530.37 360.7,531.3 C371.78,532.23 384.02,533.42 393.9,534.2 C403.78,534.98 411.95,535.37 420,536 C428.05,536.63 434.8,537.3 442.2,538 C449.6,538.7 457,539.4 464.4,540.2 C471.8,541 479.2,541.95 486.6,542.8 C494,543.65 500.85,544.7 508.8,545.3 C516.75,545.9 530.05,546.22 534.3,546.4" fill="none" stroke="#ea0080" stroke-width="2.6" stroke-linecap="round" stroke-linejoin="round"/>
<line x1="112.3" y1="500.8" x2="565.1" y2="500.8" stroke="#6a6a6a" stroke-width="1.8"/>
<line x1="112.3" y1="558.9" x2="565.1" y2="558.9" stroke="#6a6a6a" stroke-width="1.8"/>
<line x1="112.9" y1="500.2" x2="112.9" y2="559.5" stroke="#222" stroke-width="1.3"/>
<line x1="564.5" y1="500.2" x2="564.5" y2="559.5" stroke="#222" stroke-width="1.3"/>
<line x1="112.9" y1="559.6" x2="112.9" y2="561.9" stroke="#888" stroke-width="0.9"/>
<line x1="143.01" y1="559.6" x2="143.01" y2="561.9" stroke="#888" stroke-width="0.9"/>
<line x1="173.11" y1="559.6" x2="173.11" y2="561.9" stroke="#888" stroke-width="0.9"/>
<line x1="203.22" y1="559.6" x2="203.22" y2="561.9" stroke="#888" stroke-width="0.9"/>
<line x1="233.33" y1="559.6" x2="233.33" y2="561.9" stroke="#888" stroke-width="0.9"/>
<line x1="263.43" y1="559.6" x2="263.43" y2="561.9" stroke="#888" stroke-width="0.9"/>
<line x1="293.54" y1="559.6" x2="293.54" y2="561.9" stroke="#888" stroke-width="0.9"/>
<line x1="323.65" y1="559.6" x2="323.65" y2="561.9" stroke="#888" stroke-width="0.9"/>
<line x1="353.75" y1="559.6" x2="353.75" y2="561.9" stroke="#888" stroke-width="0.9"/>
<line x1="383.86" y1="559.6" x2="383.86" y2="561.9" stroke="#888" stroke-width="0.9"/>
<line x1="413.97" y1="559.6" x2="413.97" y2="561.9" stroke="#888" stroke-width="0.9"/>
<line x1="444.07" y1="559.6" x2="444.07" y2="561.9" stroke="#888" stroke-width="0.9"/>
<line x1="474.18" y1="559.6" x2="474.18" y2="561.9" stroke="#888" stroke-width="0.9"/>
<line x1="504.29" y1="559.6" x2="504.29" y2="561.9" stroke="#888" stroke-width="0.9"/>
<line x1="534.39" y1="559.6" x2="534.39" y2="561.9" stroke="#888" stroke-width="0.9"/>
<line x1="564.5" y1="559.6" x2="564.5" y2="561.9" stroke="#888" stroke-width="0.9"/>
<line x1="110" y1="509.4" x2="112.9" y2="509.4" stroke="#555" stroke-width="1"/>
<text x="105.1" y="513.04" font-size="10.7" text-anchor="end">0</text>
<line x1="110" y1="519.3" x2="112.9" y2="519.3" stroke="#555" stroke-width="1"/>
<text x="105.1" y="522.94" font-size="10.7" text-anchor="end">-5</text>
<line x1="110" y1="529.2" x2="112.9" y2="529.2" stroke="#555" stroke-width="1"/>
<text x="105.1" y="532.84" font-size="10.7" text-anchor="end">-10</text>
<line x1="110" y1="539.1" x2="112.9" y2="539.1" stroke="#555" stroke-width="1"/>
<text x="105.1" y="542.74" font-size="10.7" text-anchor="end">-15</text>
<line x1="110" y1="549" x2="112.9" y2="549" stroke="#555" stroke-width="1"/>
<text x="105.1" y="552.64" font-size="10.7" text-anchor="end">-20</text>
<line x1="110" y1="558.8" x2="112.9" y2="558.8" stroke="#555" stroke-width="1"/>
<text x="105.1" y="562.44" font-size="10.7" text-anchor="end">-25</text>
<line x1="564.5" y1="509.3" x2="568.5" y2="509.3" stroke="#222" stroke-width="1"/>
<text x="579.4" y="512.94" font-size="10.7" text-anchor="middle">0</text>
<line x1="564.5" y1="519.4" x2="568.5" y2="519.4" stroke="#222" stroke-width="1"/>
<text x="573" y="523.04" font-size="10.7" text-anchor="start">-20</text>
<line x1="564.5" y1="529.5" x2="568.5" y2="529.5" stroke="#222" stroke-width="1"/>
<text x="573" y="533.14" font-size="10.7" text-anchor="start">-40</text>
<line x1="564.5" y1="539.5" x2="568.5" y2="539.5" stroke="#222" stroke-width="1"/>
<text x="573" y="543.14" font-size="10.7" text-anchor="start">-60</text>
<line x1="564.5" y1="549.5" x2="568.5" y2="549.5" stroke="#222" stroke-width="1"/>
<text x="573" y="553.14" font-size="10.7" text-anchor="start">-80</text>
<path d="M141.6,614 C149.92,614.15 179.48,615.13 191.5,614.9 C203.52,614.67 207.05,613.2 213.7,612.6 C220.35,612 225.87,611.37 231.4,611.3 C236.93,611.23 240.62,611.38 246.9,612.2 C253.18,613.02 262.25,615.27 269.1,616.2 C275.95,617.13 280.13,618.02 288,617.8 C295.87,617.58 307.88,615.83 316.3,614.9 C324.72,613.97 331.1,613.02 338.5,612.2 C345.9,611.38 353.32,610.73 360.7,610 C368.08,609.27 375.42,608.32 382.8,607.8 C390.18,607.28 397.6,606.98 405,606.9 C412.4,606.82 421,607.15 427.2,607.3 C433.4,607.45 436,608.28 442.2,607.8 C448.4,607.32 455.15,605.6 464.4,604.4 C473.65,603.2 486.05,601.82 497.7,600.6 C509.35,599.38 528.2,597.68 534.3,597.1 L534.3,638.1 C468.85,638.18 207.05,638.52 141.6,638.6 Z" fill="#e5e5e5" stroke="#d8d8d8" stroke-width="0.5"/>
<path d="M141.5,638.8 C143.55,638.25 148.8,636.6 153.8,635.5 C158.8,634.4 165.58,632.95 171.5,632.2 C177.42,631.45 182.65,631.15 189.3,631 C195.95,630.85 204.75,631.4 211.4,631.3 C218.05,631.2 223.28,630.92 229.2,630.4 C235.12,629.88 240.98,629.02 246.9,628.2 C252.82,627.38 258.68,626.23 264.7,625.5 C270.72,624.77 277,624.25 283,623.8 C289,623.35 294.42,623.55 300.7,622.8 C306.98,622.05 314.4,620.7 320.7,619.3 C327,617.9 333.32,615.52 338.5,614.4 C343.68,613.28 347,612.52 351.8,612.6 C356.6,612.68 362.13,613.97 367.3,614.9 C372.47,615.83 377.25,617.47 382.8,618.2 C388.35,618.93 394.3,619.23 400.6,619.3 C406.9,619.37 413.67,618.87 420.6,618.6 C427.53,618.33 434.9,618.03 442.2,617.7 C449.5,617.37 457.75,617.07 464.4,616.6 C471.05,616.13 475.45,615.72 482.1,614.9 C488.75,614.08 495.6,612.7 504.3,611.7 C513,610.7 529.3,609.37 534.3,608.9" fill="none" stroke="#00787d" stroke-width="2.6" stroke-linecap="round" stroke-linejoin="round"/>
<line x1="110.8" y1="587.6" x2="564.7" y2="587.6" stroke="#333" stroke-width="1.4"/>
<line x1="110.8" y1="648.1" x2="564.7" y2="648.1" stroke="#222" stroke-width="1.4"/>
<line x1="111.4" y1="587" x2="111.4" y2="648.7" stroke="#222" stroke-width="1.3"/>
<line x1="564.1" y1="587" x2="564.1" y2="648.7" stroke="#222" stroke-width="1.3"/>
<line x1="111.4" y1="648.8" x2="111.4" y2="651.1" stroke="#888" stroke-width="0.9"/>
<line x1="141.58" y1="648.8" x2="141.58" y2="651.1" stroke="#888" stroke-width="0.9"/>
<line x1="171.76" y1="648.8" x2="171.76" y2="651.1" stroke="#888" stroke-width="0.9"/>
<line x1="201.94" y1="648.8" x2="201.94" y2="651.1" stroke="#888" stroke-width="0.9"/>
<line x1="232.12" y1="648.8" x2="232.12" y2="651.1" stroke="#888" stroke-width="0.9"/>
<line x1="262.3" y1="648.8" x2="262.3" y2="651.1" stroke="#888" stroke-width="0.9"/>
<line x1="292.48" y1="648.8" x2="292.48" y2="651.1" stroke="#888" stroke-width="0.9"/>
<line x1="322.66" y1="648.8" x2="322.66" y2="651.1" stroke="#888" stroke-width="0.9"/>
<line x1="352.84" y1="648.8" x2="352.84" y2="651.1" stroke="#888" stroke-width="0.9"/>
<line x1="383.02" y1="648.8" x2="383.02" y2="651.1" stroke="#888" stroke-width="0.9"/>
<line x1="413.2" y1="648.8" x2="413.2" y2="651.1" stroke="#888" stroke-width="0.9"/>
<line x1="443.38" y1="648.8" x2="443.38" y2="651.1" stroke="#888" stroke-width="0.9"/>
<line x1="473.56" y1="648.8" x2="473.56" y2="651.1" stroke="#888" stroke-width="0.9"/>
<line x1="503.74" y1="648.8" x2="503.74" y2="651.1" stroke="#888" stroke-width="0.9"/>
<line x1="533.92" y1="648.8" x2="533.92" y2="651.1" stroke="#888" stroke-width="0.9"/>
<line x1="564.1" y1="648.8" x2="564.1" y2="651.1" stroke="#888" stroke-width="0.9"/>
<line x1="108.5" y1="588.3" x2="111.4" y2="588.3" stroke="#555" stroke-width="1"/>
<text x="103.6" y="591.94" font-size="10.7" text-anchor="end">25</text>
<line x1="108.5" y1="598.6" x2="111.4" y2="598.6" stroke="#555" stroke-width="1"/>
<text x="103.6" y="602.24" font-size="10.7" text-anchor="end">20</text>
<line x1="108.5" y1="608.9" x2="111.4" y2="608.9" stroke="#555" stroke-width="1"/>
<text x="103.6" y="612.54" font-size="10.7" text-anchor="end">15</text>
<line x1="108.5" y1="619.1" x2="111.4" y2="619.1" stroke="#555" stroke-width="1"/>
<text x="103.6" y="622.74" font-size="10.7" text-anchor="end">10</text>
<line x1="108.5" y1="629.2" x2="111.4" y2="629.2" stroke="#555" stroke-width="1"/>
<text x="103.6" y="632.84" font-size="10.7" text-anchor="end">5</text>
<line x1="108.5" y1="639.2" x2="111.4" y2="639.2" stroke="#555" stroke-width="1"/>
<text x="103.6" y="642.84" font-size="10.7" text-anchor="end">0</text>
<line x1="564.1" y1="588.4" x2="568.1" y2="588.4" stroke="#222" stroke-width="1"/>
<text x="573.7" y="592.04" font-size="10.7" text-anchor="start">150</text>
<line x1="564.1" y1="608.4" x2="568.1" y2="608.4" stroke="#222" stroke-width="1"/>
<text x="573.7" y="612.04" font-size="10.7" text-anchor="start">120</text>
<line x1="564.1" y1="628.2" x2="568.1" y2="628.2" stroke="#222" stroke-width="1"/>
<text x="573.7" y="631.84" font-size="10.7" text-anchor="start">90</text>
<line x1="564.1" y1="648.1" x2="568.1" y2="648.1" stroke="#222" stroke-width="1"/>
<text x="573.7" y="651.74" font-size="10.7" text-anchor="start">60</text>
<path d="M141.6,686.5 C146.22,686.13 159.88,685.1 169.3,684.3 C178.72,683.5 188.12,682.22 198.1,681.7 C208.08,681.18 219.95,681.58 229.2,681.2 C238.45,680.82 246.95,679.7 253.6,679.4 C260.25,679.1 263.37,679.22 269.1,679.4 C274.83,679.58 278.28,680.42 288,680.5 C297.72,680.58 313.43,679.78 327.4,679.9 C341.37,680.02 358.87,680.98 371.8,681.2 C384.73,681.42 394.47,681.32 405,681.2 C415.53,681.08 425.1,680.87 435,680.5 C444.9,680.13 447.85,679.4 464.4,679 C480.95,678.6 522.65,678.25 534.3,678.1 L534.3,727.6 C526.35,727.52 503.15,727.37 486.6,727.1 C470.05,726.83 450.45,726.1 435,726 C419.55,725.9 408.13,726.2 393.9,726.5 C379.67,726.8 360.68,727.22 349.6,727.8 C338.52,728.38 334.8,729.55 327.4,730 C320,730.45 311.77,730.78 305.2,730.5 C298.63,730.22 295.37,728.82 288,728.3 C280.63,727.78 275.67,727.55 261,727.4 C246.33,727.25 219.9,727.45 200,727.4 C180.1,727.35 151.33,727.15 141.6,727.1 Z" fill="#e5e5e5" stroke="#d8d8d8" stroke-width="0.5"/>
<path d="M141.5,725.6 C144.28,725.38 151.72,724.9 158.2,724.3 C164.68,723.7 173,722.75 180.4,722 C187.8,721.25 195.2,720.23 202.6,719.8 C210,719.37 218.88,719.65 224.8,719.4 C230.72,719.15 233.3,718.87 238.1,718.3 C242.9,717.73 248.43,716.55 253.6,716 C258.77,715.45 263.37,715.1 269.1,715 C274.83,714.9 283.83,715.3 288,715.4 C292.17,715.5 289.38,715.75 294.1,715.6 C298.82,715.45 308.9,715.23 316.3,714.5 C323.7,713.77 331.1,712.32 338.5,711.2 C345.9,710.08 353.78,708.67 360.7,707.8 C367.62,706.93 373.13,706.87 380,706 C386.87,705.13 394.6,703.82 401.9,702.6 C409.2,701.38 417.23,699.92 423.8,698.7 C430.37,697.48 435.22,696.05 441.3,695.3 C447.38,694.55 453.85,694.75 460.3,694.2 C466.75,693.65 473.77,692.9 480,692 C486.23,691.1 491.8,689.78 497.7,688.8 C503.6,687.82 509.3,686.7 515.4,686.1 C521.5,685.5 531.15,685.35 534.3,685.2" fill="none" stroke="#f58200" stroke-width="2.6" stroke-linecap="round" stroke-linejoin="round"/>
<line x1="110.8" y1="677.1" x2="565.1" y2="677.1" stroke="#6a6a6a" stroke-width="1.6"/>
<line x1="110.8" y1="737.2" x2="565.1" y2="737.2" stroke="#222" stroke-width="1.4"/>
<line x1="111.4" y1="676.5" x2="111.4" y2="737.8" stroke="#222" stroke-width="1.3"/>
<line x1="564.5" y1="676.5" x2="564.5" y2="737.8" stroke="#222" stroke-width="1.3"/>
<line x1="111.4" y1="737.9" x2="111.4" y2="740.2" stroke="#888" stroke-width="0.9"/>
<line x1="141.61" y1="737.9" x2="141.61" y2="740.2" stroke="#888" stroke-width="0.9"/>
<line x1="171.81" y1="737.9" x2="171.81" y2="740.2" stroke="#888" stroke-width="0.9"/>
<line x1="202.02" y1="737.9" x2="202.02" y2="740.2" stroke="#888" stroke-width="0.9"/>
<line x1="232.23" y1="737.9" x2="232.23" y2="740.2" stroke="#888" stroke-width="0.9"/>
<line x1="262.43" y1="737.9" x2="262.43" y2="740.2" stroke="#888" stroke-width="0.9"/>
<line x1="292.64" y1="737.9" x2="292.64" y2="740.2" stroke="#888" stroke-width="0.9"/>
<line x1="322.85" y1="737.9" x2="322.85" y2="740.2" stroke="#888" stroke-width="0.9"/>
<line x1="353.05" y1="737.9" x2="353.05" y2="740.2" stroke="#888" stroke-width="0.9"/>
<line x1="383.26" y1="737.9" x2="383.26" y2="740.2" stroke="#888" stroke-width="0.9"/>
<line x1="413.47" y1="737.9" x2="413.47" y2="740.2" stroke="#888" stroke-width="0.9"/>
<line x1="443.67" y1="737.9" x2="443.67" y2="740.2" stroke="#888" stroke-width="0.9"/>
<line x1="473.88" y1="737.9" x2="473.88" y2="740.2" stroke="#888" stroke-width="0.9"/>
<line x1="504.09" y1="737.9" x2="504.09" y2="740.2" stroke="#888" stroke-width="0.9"/>
<line x1="534.29" y1="737.9" x2="534.29" y2="740.2" stroke="#888" stroke-width="0.9"/>
<line x1="564.5" y1="737.9" x2="564.5" y2="740.2" stroke="#888" stroke-width="0.9"/>
<line x1="108.5" y1="677.2" x2="111.4" y2="677.2" stroke="#555" stroke-width="1"/>
<text x="103.6" y="680.84" font-size="10.7" text-anchor="end">1.0</text>
<line x1="108.5" y1="689.4" x2="111.4" y2="689.4" stroke="#555" stroke-width="1"/>
<text x="103.6" y="693.04" font-size="10.7" text-anchor="end">0.8</text>
<line x1="108.5" y1="701.4" x2="111.4" y2="701.4" stroke="#555" stroke-width="1"/>
<text x="103.6" y="705.04" font-size="10.7" text-anchor="end">0.6</text>
<line x1="108.5" y1="713.4" x2="111.4" y2="713.4" stroke="#555" stroke-width="1"/>
<text x="103.6" y="717.04" font-size="10.7" text-anchor="end">0.4</text>
<line x1="108.5" y1="725.3" x2="111.4" y2="725.3" stroke="#555" stroke-width="1"/>
<text x="103.6" y="728.94" font-size="10.7" text-anchor="end">0.2</text>
<line x1="108.5" y1="737.2" x2="111.4" y2="737.2" stroke="#555" stroke-width="1"/>
<text x="103.6" y="740.84" font-size="10.7" text-anchor="end">0.0</text>
<line x1="564.5" y1="677.1" x2="568.5" y2="677.1" stroke="#222" stroke-width="1"/>
<text x="573.3" y="680.74" font-size="10.7" text-anchor="start">0.7</text>
<line x1="564.5" y1="692.2" x2="568.5" y2="692.2" stroke="#222" stroke-width="1"/>
<text x="573.3" y="695.84" font-size="10.7" text-anchor="start">0.6</text>
<line x1="564.5" y1="707.3" x2="568.5" y2="707.3" stroke="#222" stroke-width="1"/>
<text x="573.3" y="710.94" font-size="10.7" text-anchor="start">0.5</text>
<line x1="564.5" y1="722.4" x2="568.5" y2="722.4" stroke="#222" stroke-width="1"/>
<text x="573.3" y="726.04" font-size="10.7" text-anchor="start">0.4</text>
<line x1="564.5" y1="737.3" x2="568.5" y2="737.3" stroke="#222" stroke-width="1"/>
<text x="573.3" y="740.94" font-size="10.7" text-anchor="start">0.3</text>
<text transform="translate(145.61,759.8) rotate(-90)" font-size="11.6" text-anchor="middle" textLength="22" lengthAdjust="spacingAndGlyphs">2002</text>
<text transform="translate(175.81,759.8) rotate(-90)" font-size="11.6" text-anchor="middle" textLength="22" lengthAdjust="spacingAndGlyphs">2003</text>
<text transform="translate(206.02,759.8) rotate(-90)" font-size="11.6" text-anchor="middle" textLength="22" lengthAdjust="spacingAndGlyphs">2004</text>
<text transform="translate(236.23,759.8) rotate(-90)" font-size="11.6" text-anchor="middle" textLength="22" lengthAdjust="spacingAndGlyphs">2005</text>
<text transform="translate(266.43,759.8) rotate(-90)" font-size="11.6" text-anchor="middle" textLength="22" lengthAdjust="spacingAndGlyphs">2006</text>
<text transform="translate(296.64,759.8) rotate(-90)" font-size="11.6" text-anchor="middle" textLength="22" lengthAdjust="spacingAndGlyphs">2007</text>
<text transform="translate(326.85,759.8) rotate(-90)" font-size="11.6" text-anchor="middle" textLength="22" lengthAdjust="spacingAndGlyphs">2008</text>
<text transform="translate(357.05,759.8) rotate(-90)" font-size="11.6" text-anchor="middle" textLength="22" lengthAdjust="spacingAndGlyphs">2009</text>
<text transform="translate(387.26,759.8) rotate(-90)" font-size="11.6" text-anchor="middle" textLength="22" lengthAdjust="spacingAndGlyphs">2010</text>
<text transform="translate(417.47,759.8) rotate(-90)" font-size="11.6" text-anchor="middle" textLength="22" lengthAdjust="spacingAndGlyphs">2011</text>
<text transform="translate(447.67,759.8) rotate(-90)" font-size="11.6" text-anchor="middle" textLength="22" lengthAdjust="spacingAndGlyphs">2012</text>
<text transform="translate(477.88,759.8) rotate(-90)" font-size="11.6" text-anchor="middle" textLength="22" lengthAdjust="spacingAndGlyphs">2013</text>
<text transform="translate(508.09,759.8) rotate(-90)" font-size="11.6" text-anchor="middle" textLength="22" lengthAdjust="spacingAndGlyphs">2014</text>
<text transform="translate(538.29,759.8) rotate(-90)" font-size="11.6" text-anchor="middle" textLength="22" lengthAdjust="spacingAndGlyphs">2015</text>
<text transform="translate(58.8,37) rotate(-90)" font-size="12.5" text-anchor="middle">SPI</text>
<text transform="translate(57.8,116.3) rotate(-90)" font-size="11.84" text-anchor="middle">P-E</text>
<text transform="translate(73.75,115.1) rotate(-90)" font-size="12.6" text-anchor="middle">(km<tspan font-size="59%" dy="-0.85em">3</tspan><tspan dy="0.5em">)</tspan></text>
<text transform="translate(57.5,199.4) rotate(-90)" font-size="10.75" text-anchor="middle">R</text>
<text transform="translate(73.75,195) rotate(-90)" font-size="12.6" text-anchor="middle">(km<tspan font-size="59%" dy="-0.85em">3</tspan><tspan dy="0.5em">)</tspan></text>
<text transform="translate(59.25,279) rotate(-90)" font-size="11.72" text-anchor="middle">Number of Wells</text>
<text transform="translate(72.15,286) rotate(-90)" font-size="11.76" text-anchor="middle">(*1000)</text>
<text transform="translate(57.55,368.8) rotate(-90)" font-size="12.42" text-anchor="middle">H<tspan font-size="64%" dy="0.53em">out</tspan></text>
<text transform="translate(77.75,363.9) rotate(-90)" font-size="12.6" text-anchor="middle">(km<tspan font-size="59%" dy="-0.85em">3</tspan><tspan dy="0.5em">)</tspan></text>
<text transform="translate(58.85,452.3) rotate(-90)" font-size="12.06" text-anchor="middle">H<tspan font-size="64%" dy="0.53em">in</tspan></text>
<text transform="translate(78.2,448.5) rotate(-90)" font-size="12.6" text-anchor="middle">(km<tspan font-size="59%" dy="-0.85em">3</tspan><tspan dy="0.5em">)</tspan></text>
<text transform="translate(58.85,537.9) rotate(-90)" font-size="12.7" text-anchor="middle">ds/dt</text>
<text transform="translate(74.8,535.9) rotate(-90)" font-size="12.6" text-anchor="middle">(km<tspan font-size="59%" dy="-0.85em">3</tspan><tspan dy="0.5em">)</tspan></text>
<text transform="translate(62.6,617) rotate(-90)" font-size="12.37" text-anchor="middle">Net Flux</text>
<text transform="translate(78.2,618.7) rotate(-90)" font-size="12.6" text-anchor="middle">(km<tspan font-size="59%" dy="-0.85em">3</tspan><tspan dy="0.5em">)</tspan></text>
<text transform="translate(59.9,713) rotate(-90)" font-size="11.96" text-anchor="middle">h<tspan font-size="64%" dy="0.53em">out</tspan></text>
<text transform="translate(15.3,356.8) rotate(-90)" font-size="19.64" text-anchor="middle">Basin-Wide</text>
<text transform="translate(624.35,26.4) rotate(90)" font-size="12.61" text-anchor="middle">SPI</text>
<text transform="translate(627.45,103.7) rotate(90)" font-size="11.84" text-anchor="middle">P-E</text>
<text transform="translate(610.8,105.5) rotate(90)" font-size="12.6" text-anchor="middle">(km<tspan font-size="59%" dy="-0.85em">3</tspan><tspan dy="0.5em">)</tspan></text>
<text transform="translate(626.7,191.7) rotate(90)" font-size="11.5" text-anchor="middle">R</text>
<text transform="translate(610.3,195.5) rotate(90)" font-size="12.6" text-anchor="middle">(km<tspan font-size="59%" dy="-0.85em">3</tspan><tspan dy="0.5em">)</tspan></text>
<text transform="translate(623.5,276.6) rotate(90)" font-size="11.6" text-anchor="middle">Number of Wells</text>
<text transform="translate(611.1,270.5) rotate(90)" font-size="11.57" text-anchor="middle">(*1000)</text>
<text transform="translate(625.7,357) rotate(90)" font-size="12.6" text-anchor="middle">H<tspan font-size="64%" dy="0.53em">out</tspan></text>
<text transform="translate(605.8,360.9) rotate(90)" font-size="12.6" text-anchor="middle">(km<tspan font-size="59%" dy="-0.85em">3</tspan><tspan dy="0.5em">)</tspan></text>
<text transform="translate(626.4,446.7) rotate(90)" font-size="12.03" text-anchor="middle">H<tspan font-size="64%" dy="0.53em">in</tspan></text>
<text transform="translate(607,449.7) rotate(90)" font-size="12.6" text-anchor="middle">(km<tspan font-size="59%" dy="-0.85em">3</tspan><tspan dy="0.5em">)</tspan></text>
<text transform="translate(624.55,527.7) rotate(90)" font-size="11.85" text-anchor="middle">ds/dt</text>
<text transform="translate(609,529.5) rotate(90)" font-size="12.6" text-anchor="middle">(km<tspan font-size="59%" dy="-0.85em">3</tspan><tspan dy="0.5em">)</tspan></text>
<text transform="translate(624.4,619) rotate(90)" font-size="12.44" text-anchor="middle">Net Flux</text>
<text transform="translate(608.5,616.6) rotate(90)" font-size="12.6" text-anchor="middle">(km<tspan font-size="59%" dy="-0.85em">3</tspan><tspan dy="0.5em">)</tspan></text>
<text transform="translate(623.8,703.6) rotate(90)" font-size="12.41" text-anchor="middle">h<tspan font-size="64%" dy="0.53em">out</tspan></text>
<text transform="translate(669.6,353) rotate(90)" font-size="19.98" text-anchor="middle">Country-Wide</text>
</svg>
</body></html>
